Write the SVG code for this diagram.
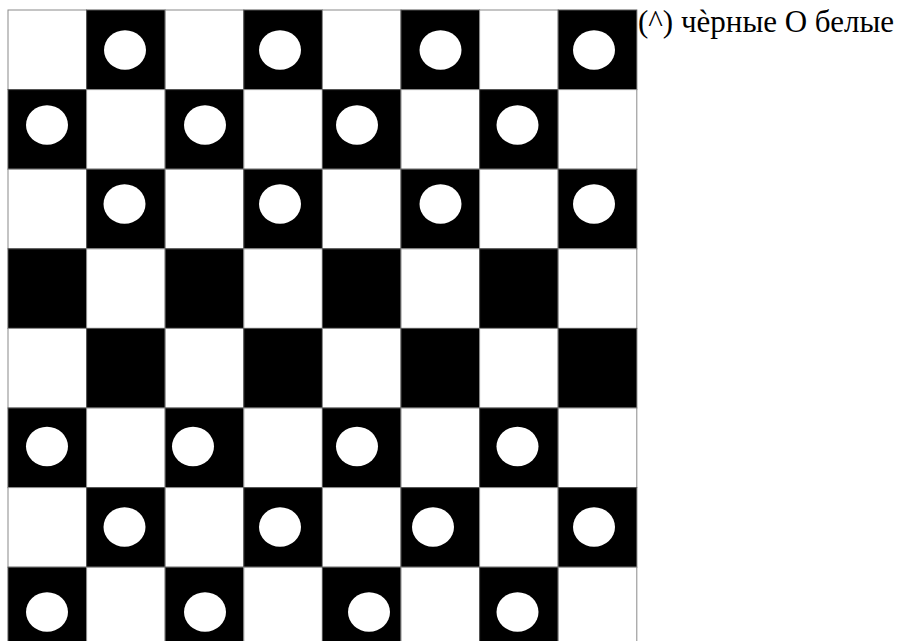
<svg xmlns="http://www.w3.org/2000/svg" width="904" height="641" viewBox="0 0 904 641">
<style>
.w{fill:#fff;stroke:#8a8a8a;stroke-width:1}
.b{fill:#000;stroke:#555;stroke-width:1}
.p{fill:#fff}
.t{font-family:"Liberation Serif","DejaVu Serif",serif;font-size:31px;fill:#000}
</style>
<defs>
<ellipse id="pc" class="p" cx="0" cy="0" rx="21" ry="19.7"/>
</defs>
<rect x="0" y="0" width="904" height="641" fill="#fff"/>
<g id="board">
<rect class="w" x="8" y="10" width="78.6" height="79.6"/>
<rect class="b" x="86.6" y="10" width="78.6" height="79.6"/>
<rect class="w" x="165.2" y="10" width="78.6" height="79.6"/>
<rect class="b" x="243.8" y="10" width="78.6" height="79.6"/>
<rect class="w" x="322.4" y="10" width="78.6" height="79.6"/>
<rect class="b" x="401" y="10" width="78.6" height="79.6"/>
<rect class="w" x="479.6" y="10" width="78.6" height="79.6"/>
<rect class="b" x="558.2" y="10" width="78.6" height="79.6"/>

<rect class="b" x="8" y="89.6" width="78.6" height="79.6"/>
<rect class="w" x="86.6" y="89.6" width="78.6" height="79.6"/>
<rect class="b" x="165.2" y="89.6" width="78.6" height="79.6"/>
<rect class="w" x="243.8" y="89.6" width="78.6" height="79.6"/>
<rect class="b" x="322.4" y="89.6" width="78.6" height="79.6"/>
<rect class="w" x="401" y="89.6" width="78.6" height="79.6"/>
<rect class="b" x="479.6" y="89.6" width="78.6" height="79.6"/>
<rect class="w" x="558.2" y="89.6" width="78.6" height="79.6"/>

<rect class="w" x="8" y="169.2" width="78.6" height="79.6"/>
<rect class="b" x="86.6" y="169.2" width="78.6" height="79.6"/>
<rect class="w" x="165.2" y="169.2" width="78.6" height="79.6"/>
<rect class="b" x="243.8" y="169.2" width="78.6" height="79.6"/>
<rect class="w" x="322.4" y="169.2" width="78.6" height="79.6"/>
<rect class="b" x="401" y="169.2" width="78.6" height="79.6"/>
<rect class="w" x="479.6" y="169.2" width="78.6" height="79.6"/>
<rect class="b" x="558.2" y="169.2" width="78.6" height="79.6"/>

<rect class="b" x="8" y="248.8" width="78.6" height="79.6"/>
<rect class="w" x="86.6" y="248.8" width="78.6" height="79.6"/>
<rect class="b" x="165.2" y="248.8" width="78.6" height="79.6"/>
<rect class="w" x="243.8" y="248.8" width="78.6" height="79.6"/>
<rect class="b" x="322.4" y="248.8" width="78.6" height="79.6"/>
<rect class="w" x="401" y="248.8" width="78.6" height="79.6"/>
<rect class="b" x="479.6" y="248.8" width="78.6" height="79.6"/>
<rect class="w" x="558.2" y="248.8" width="78.6" height="79.6"/>

<rect class="w" x="8" y="328.4" width="78.6" height="79.6"/>
<rect class="b" x="86.6" y="328.4" width="78.6" height="79.6"/>
<rect class="w" x="165.2" y="328.4" width="78.6" height="79.6"/>
<rect class="b" x="243.8" y="328.4" width="78.6" height="79.6"/>
<rect class="w" x="322.4" y="328.4" width="78.6" height="79.6"/>
<rect class="b" x="401" y="328.4" width="78.6" height="79.6"/>
<rect class="w" x="479.6" y="328.4" width="78.6" height="79.6"/>
<rect class="b" x="558.2" y="328.4" width="78.6" height="79.6"/>

<rect class="b" x="8" y="408" width="78.6" height="79.6"/>
<rect class="w" x="86.6" y="408" width="78.6" height="79.6"/>
<rect class="b" x="165.2" y="408" width="78.6" height="79.6"/>
<rect class="w" x="243.8" y="408" width="78.6" height="79.6"/>
<rect class="b" x="322.4" y="408" width="78.6" height="79.6"/>
<rect class="w" x="401" y="408" width="78.6" height="79.6"/>
<rect class="b" x="479.6" y="408" width="78.6" height="79.6"/>
<rect class="w" x="558.2" y="408" width="78.6" height="79.6"/>

<rect class="w" x="8" y="487.6" width="78.6" height="79.6"/>
<rect class="b" x="86.6" y="487.6" width="78.6" height="79.6"/>
<rect class="w" x="165.2" y="487.6" width="78.6" height="79.6"/>
<rect class="b" x="243.8" y="487.6" width="78.6" height="79.6"/>
<rect class="w" x="322.4" y="487.6" width="78.6" height="79.6"/>
<rect class="b" x="401" y="487.6" width="78.6" height="79.6"/>
<rect class="w" x="479.6" y="487.6" width="78.6" height="79.6"/>
<rect class="b" x="558.2" y="487.6" width="78.6" height="79.6"/>

<rect class="b" x="8" y="567.2" width="78.6" height="79.6"/>
<rect class="w" x="86.6" y="567.2" width="78.6" height="79.6"/>
<rect class="b" x="165.2" y="567.2" width="78.6" height="79.6"/>
<rect class="w" x="243.8" y="567.2" width="78.6" height="79.6"/>
<rect class="b" x="322.4" y="567.2" width="78.6" height="79.6"/>
<rect class="w" x="401" y="567.2" width="78.6" height="79.6"/>
<rect class="b" x="479.6" y="567.2" width="78.6" height="79.6"/>
<rect class="w" x="558.2" y="567.2" width="78.6" height="79.6"/>
</g>
<g id="pieces">
<use href="#pc" x="125" y="50"/>
<use href="#pc" x="280" y="50"/>
<use href="#pc" x="440.5" y="50"/>
<use href="#pc" x="594" y="50"/>

<use href="#pc" x="47" y="125"/>
<use href="#pc" x="205" y="125"/>
<use href="#pc" x="357" y="125"/>
<use href="#pc" x="517.5" y="125"/>

<use href="#pc" x="124.5" y="204"/>
<use href="#pc" x="280" y="204"/>
<use href="#pc" x="440.5" y="204"/>
<use href="#pc" x="594" y="204"/>

<use href="#pc" x="47" y="446.5"/>
<use href="#pc" x="193" y="446.5"/>
<use href="#pc" x="357" y="446.5"/>
<use href="#pc" x="517.5" y="446.5"/>

<use href="#pc" x="124.5" y="527"/>
<use href="#pc" x="280" y="527"/>
<use href="#pc" x="433" y="527"/>
<use href="#pc" x="594" y="527"/>

<use href="#pc" x="47" y="612"/>
<use href="#pc" x="205" y="612"/>
<use href="#pc" x="369" y="612"/>
<use href="#pc" x="517.5" y="612"/>
</g>
<g id="legend">
<text class="t" x="638" y="32">(^) чѐрные O белые</text>
</g>
</svg>
